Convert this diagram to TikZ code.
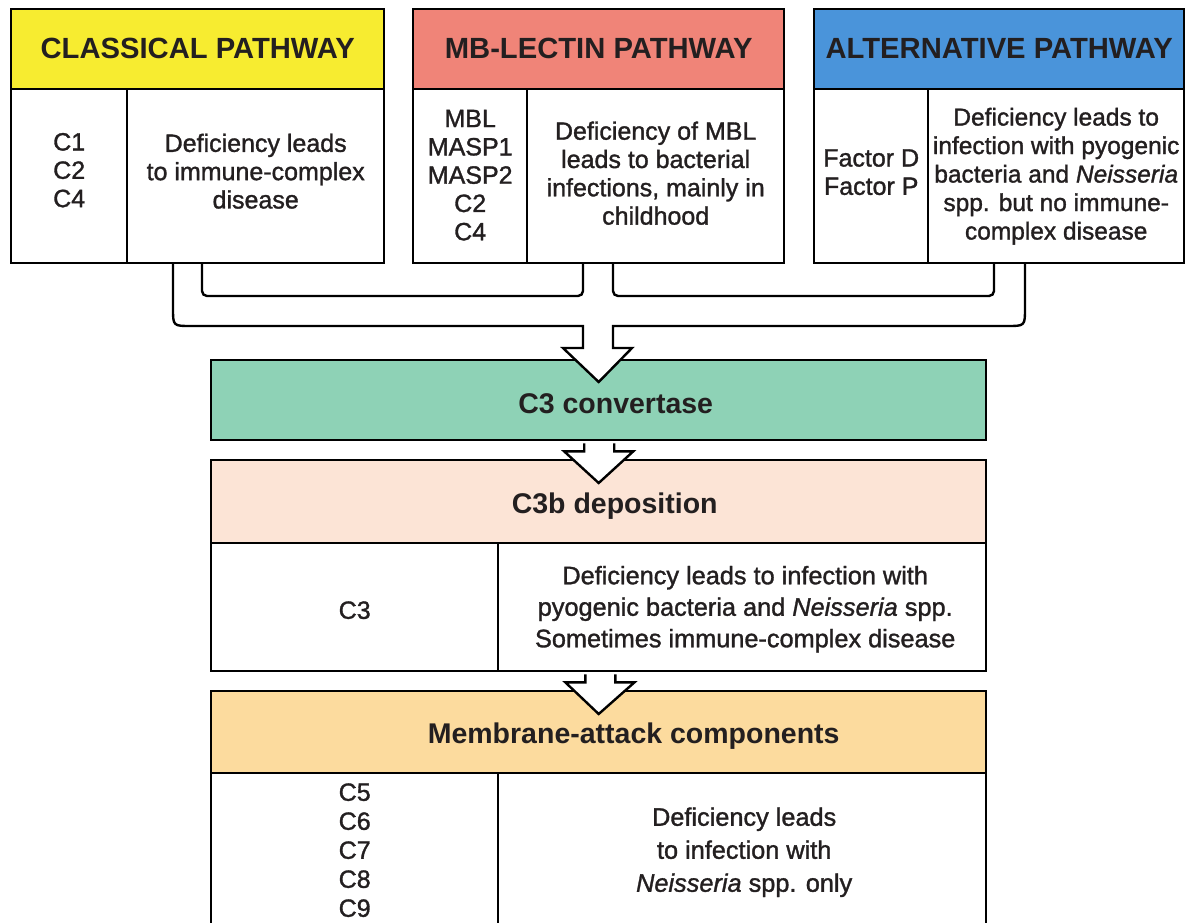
\documentclass[tikz,border=0pt]{standalone}
\usepackage{fontspec}
\setmainfont{Liberation Sans}
\newfontfamily\bodyfont{Liberation Sans}[FakeBold=1.3]
\usetikzlibrary{calc}
\definecolor{txt}{HTML}{231F20}
\definecolor{clYellow}{HTML}{F7EC30}
\definecolor{mbSalmon}{HTML}{F08478}
\definecolor{altBlue}{HTML}{4A94DA}
\definecolor{cGreen}{HTML}{8ED2B6}
\definecolor{cPeach}{HTML}{FCE4D6}
\definecolor{cMac}{HTML}{FCDB9E}
\begin{document}
\begin{tikzpicture}[x=1pt,y=-1pt,
  box/.style={draw=black, line width=2.4pt, rectangle, inner sep=0pt, anchor=north west},
  cellbox/.style={box, fill=white},
  hdrtext/.style={inner sep=0pt, text=txt, font=\fontsize{29.2}{32}\selectfont\bfseries},
  bodytext/.style={inner sep=0pt, text=txt, align=center, font=\bodyfont\fontsize{25}{28.3}\selectfont},
  pipe/.style={line width=2.4pt, draw=black, line join=miter}
]
\useasboundingbox (0,0) rectangle (1189,922);

% lower boxes
\node[box, fill=cGreen, minimum width=775pt, minimum height=80pt] (c3) at (210,359) {};
\node[hdrtext, font=\fontsize{28.5}{32}\selectfont\bfseries] (c3t) at ($(c3.center)+(17,4)$) {C3 convertase};
\node[box, fill=cPeach, minimum width=775pt, minimum height=83pt] (c3b) at (210,459) {};
\node[hdrtext, font=\fontsize{28.5}{32}\selectfont\bfseries] (c3bt) at ($(c3b.center)+(16,4)$) {C3b deposition};
\node[cellbox, minimum width=287pt, minimum height=128pt] (c3bl) at (210,542) {};
\node[bodytext] (c3blt) at ($(c3bl.center)+(0,3)$) {C3};
\node[cellbox, minimum width=488pt, minimum height=128pt] (c3br) at (497,542) {};
\node[bodytext, font=\bodyfont\fontsize{25.3}{31.5}\selectfont] (c3brt) at ($(c3br.center)+(3,2)$)
  {Deficiency leads to infection with\\pyogenic bacteria and {\itshape Neisseria} spp.\\Sometimes immune-complex disease};
\node[box, fill=cMac, minimum width=775pt, minimum height=82pt] (mac) at (210,690) {};
\node[hdrtext, font=\fontsize{28.5}{32}\selectfont\bfseries] (mact) at ($(mac.center)+(35,4)$) {Membrane-attack components};
\node[cellbox, minimum width=287pt, minimum height=160pt] (macl) at (210,772) {};
\node[bodytext, font=\bodyfont\fontsize{25}{29}\selectfont] (maclt) at ($(macl.center)+(0,-3)$) {C5\\C6\\C7\\C8\\C9};
\node[cellbox, minimum width=488pt, minimum height=160pt] (macr) at (497,772) {};
\node[bodytext, font=\bodyfont\fontsize{25.3}{33}\selectfont] (macrt) at ($(macr.center)+(2,-1)$)
  {Deficiency leads\\to infection with\\{\itshape Neisseria} spp. only};

% pipes from the three pathways into C3 convertase
\coordinate (oL) at (173,262);
\coordinate (oR) at (1025,262);
\fill[white] (583,326) -- (583,348) -- (563,348) -- (598,382) -- (632,348) -- (613,348) -- (613,326) -- cycle;
\draw[pipe] (oL) -- (173,308) .. controls (173,326) .. (191,326) -- (583,326) -- (583,348) -- (563,348)
  -- ($(c3.north)+(0,23)$) -- (632,348) -- (613,348) -- (613,326) -- (1007,326) .. controls (1025,326) .. (1025,308) -- (oR);
\draw[pipe, rounded corners=5pt] (202,262) -- (202,296) -- (583,296) -- (583,262);
\draw[pipe, rounded corners=5pt] (613,262) -- (613,296) -- (994,296) -- (994,262);

% arrows between lower boxes
\filldraw[pipe, fill=white] ($(c3.south)+(-14.5,2)$) -- ($(c3.south)+(-14.5,10)$) -- ($(c3.south)+(-34.5,10)$)
  -- ($(c3b.north)+(0,24)$) -- ($(c3.south)+(34.5,10)$) -- ($(c3.south)+(15.5,10)$) -- ($(c3.south)+(15.5,2)$);
\filldraw[pipe, fill=white] ($(c3bl.south east)+(86,2)$) -- ($(c3bl.south east)+(86,10)$) -- ($(c3bl.south east)+(66,10)$)
  -- ($(mac.north)+(0,24)$) -- ($(c3bl.south east)+(135,10)$) -- ($(c3bl.south east)+(116,10)$) -- ($(c3bl.south east)+(116,2)$);

% top pathway boxes
\node[box, fill=clYellow, minimum width=373pt, minimum height=80pt] (clh) at (10,8) {};
\node[hdrtext] (clht) at ($(clh.center)+(0,-1)$) {CLASSICAL PATHWAY};
\node[cellbox, minimum width=116pt, minimum height=174pt] (cll) at (10,88) {};
\node[bodytext] (cllt) at ($(cll.center)+(0,-6)$) {C1\\C2\\C4};
\node[cellbox, minimum width=257pt, minimum height=174pt] (clr) at (126,88) {};
\node[bodytext] (clrt) at ($(clr.center)+(0,-5)$) {Deficiency leads\\to immune-complex\\disease};

\node[box, fill=mbSalmon, minimum width=371pt, minimum height=80pt] (mbh) at (412,8) {};
\node[hdrtext] (mbht) at ($(mbh.center)+(0,-1)$) {MB-LECTIN PATHWAY};
\node[cellbox, minimum width=114pt, minimum height=174pt] (mbl) at (412,88) {};
\node[bodytext] (mblt) at ($(mbl.center)+(0,-1)$) {MBL\\MASP1\\MASP2\\C2\\C4};
\node[cellbox, minimum width=257pt, minimum height=174pt] (mbr) at (526,88) {};
\node[bodytext] (mbrt) at ($(mbr.center)+(0,-3)$) {Deficiency of MBL\\leads to bacterial\\infections, mainly in\\childhood};

\node[box, fill=altBlue, minimum width=370pt, minimum height=80pt] (alh) at (813,8) {};
\node[hdrtext] (alht) at ($(alh.center)+(0,-1)$) {ALTERNATIVE PATHWAY};
\node[cellbox, minimum width=114pt, minimum height=174pt] (all) at (813,88) {};
\node[bodytext] (allt) at ($(all.center)+(0,-4)$) {Factor D\\Factor P};
\node[cellbox, minimum width=256pt, minimum height=174pt] (alr) at (927,88) {};
\node[bodytext, font=\bodyfont\fontsize{24.5}{28.5}\selectfont] (alrt) at ($(alr.center)+(0,0)$)
  {Deficiency leads to\\infection with pyogenic\\bacteria and {\itshape Neisseria}\\spp. but no immune-\\complex disease};
\end{tikzpicture}
\end{document}
